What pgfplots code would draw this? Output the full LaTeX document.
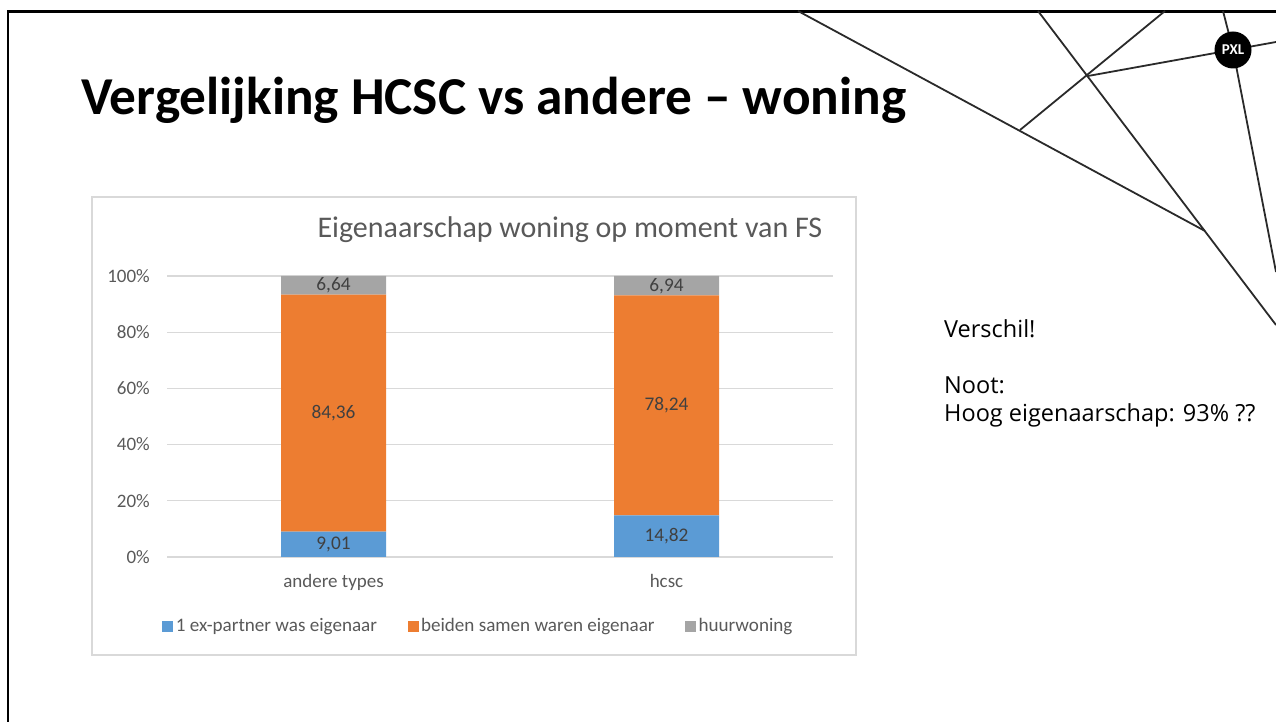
\documentclass[border=0pt]{standalone}
\usepackage{fontspec}
\setmainfont{Carlito}
\newfontfamily\notefont{Open Sans}
\usepackage{pgfplots}
\pgfplotsset{compat=1.18}
\definecolor{cblue}{HTML}{5B9BD5}
\definecolor{corange}{HTML}{ED7D31}
\definecolor{cgray}{HTML}{A5A5A5}
\definecolor{cgrid}{HTML}{D9D9D9}
\definecolor{ctext}{HTML}{595959}
\definecolor{clabel}{HTML}{404040}
\definecolor{cline}{HTML}{2A2A2A}
\begin{document}
\begin{tikzpicture}
\path[use as bounding box] (0pt,0pt) rectangle (1276pt,722pt);
\clip (0pt,0pt) rectangle (1276pt,722pt);
% slide frame
\draw[black, line width=2.2pt] (8pt,0pt) -- (8pt,710.5pt) -- (1277pt,710.5pt);
% decorative lines
\begin{scope}[cline, line width=1.8pt]
\draw (798pt,711pt) -- (1205pt,491pt);
\draw (1038pt,711pt) -- (1276pt,397pt);
\draw (1165pt,711pt) -- (1020pt,592pt);
\draw (1088pt,646pt) -- (1276pt,680pt);
\draw (1223pt,711pt) -- (1233pt,672pt) -- (1276pt,450pt);
\end{scope}
\fill[black] (1233pt,672pt) circle (18.5pt);
\node[text=white, inner sep=0pt, font=\fontsize{15}{15}\selectfont\bfseries] at (1233pt,672pt) {PXL};
% slide title
\node[anchor=base west, inner sep=0pt, font=\fontsize{53.3}{60}\selectfont\bfseries] at (81pt,607pt) {Vergelijking HCSC vs andere – woning};
% notes
\node[anchor=base west, inner sep=0pt, font=\notefont\fontsize{23.5}{28}\selectfont] at (944pt,384pt) {Verschil!};
\node[anchor=base west, inner sep=0pt, font=\notefont\fontsize{23.5}{28}\selectfont] at (944pt,328pt) {Noot:};
\node[anchor=base west, inner sep=0pt, font=\notefont\fontsize{23.5}{28}\selectfont] at (944pt,300pt) {Hoog eigenaarschap: 93\% ??};
% chart box
\draw[cgrid, line width=1.2pt] (92pt,525pt) rectangle (856pt,67pt);
\begin{axis}[
  at={(167pt,165pt)}, anchor=south west,
  scale only axis, width=666pt, height=281pt,
  ybar stacked, bar width=105pt,
  xmin=-0.5, xmax=1.5, ymin=0, ymax=100,
  enlargelimits=false,
  axis line style={draw=none},
  major tick length=0pt,
  xtick={0,1}, xticklabels={andere types,hcsc},
  ytick={0,20,40,60,80,100}, yticklabels={0\%,20\%,40\%,60\%,80\%,100\%},
  ymajorgrids, grid style={cgrid, line width=1.2pt},
  tick label style={font=\fontsize{19}{22}\selectfont, text=ctext},
  yticklabel style={anchor=east, inner sep=0pt, xshift=-17pt},
  xticklabel style={anchor=base, inner sep=0pt, yshift=-31pt},
  title={Eigenaarschap woning op moment van FS},
  title style={at={(0.605,1.117)}, anchor=base, font=\fontsize{30}{34}\selectfont, text=ctext, inner sep=0pt},
  point meta=explicit,
  nodes near coords={\pgfmathprintnumber[fixed,fixed zerofill,precision=2,use comma,assume math mode=true]{\pgfplotspointmeta}},
  nodes near coords align=center,
  every node near coord/.append style={font=\fontsize{19.3}{23}\selectfont, text=clabel},
  legend columns=3,
  legend cell align=left,
  legend style={at={(0.468,-0.2456)}, anchor=center, draw=none, fill=none, font=\fontsize{19.1}{23}\selectfont, text=ctext, nodes={inner sep=2.5pt}, /tikz/every even column/.append style={column sep=28pt}},
  legend image code/.code={\fill[#1] (0pt,-5.5pt) rectangle (11pt,5.5pt);},
  clip=false,
]
\addplot[fill=cblue, draw=none] coordinates {(0,9.01) [9.01] (1,14.82) [14.82]};
\addplot[fill=corange, draw=none] coordinates {(0,84.36) [84.36] (1,78.24) [78.24]};
\addplot[fill=cgray, draw=none] coordinates {(0,6.64) [6.64] (1,6.94) [6.94]};
\legend{1 ex-partner was eigenaar, beiden samen waren eigenaar, huurwoning}
\end{axis}
\end{tikzpicture}
\end{document}
